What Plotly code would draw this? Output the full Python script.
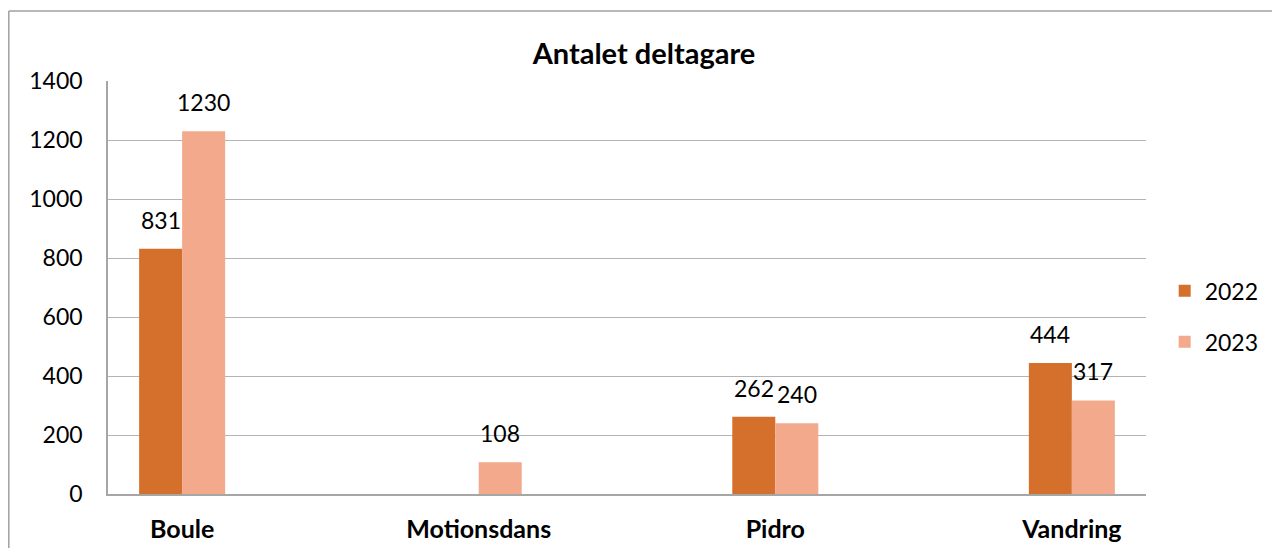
import plotly.graph_objects as go

categories = ["Boule", "Motionsdans", "Pidro", "Vandring"]
series_names = ["2022", "2023"]
values_2022 = [831, None, 262, 444]
values_2023 = [1230, 108, 240, 317]
y_ticks = [0, 200, 400, 600, 800, 1000, 1200, 1400]

colors = ["#D4702C", "#F2A98C"]
FONT = "Lato, Calibri, Carlito, sans-serif"

# page body has an 8px margin; compensate so the plot lands where the reference has it
W, H = 1272, 540
L, R, T, B = 100, 134, 73, 54
BAR_PX = 43  # each bar's approximate pixel width, used to place the value labels

fig = go.Figure()
series = [values_2022, values_2023]
for i, (name, vals, col) in enumerate(zip(series_names, series, colors)):
    fig.add_trace(go.Bar(
        x=categories, y=vals, name=name, marker_color=col, marker_line_width=0,
        legendgroup=name,
    ))
    shift = (i - 0.5) * BAR_PX
    for c, v in zip(categories, vals):
        if v is None:
            continue
        fig.add_annotation(
            x=c, y=v, xref="x", yref="y", text=str(v), showarrow=False,
            xshift=shift, yshift=13, yanchor="bottom", xanchor="center",
            font=dict(size=23, color="#000000", family=FONT),
        )

fig.update_layout(
    width=W, height=H,
    margin=dict(l=L, r=R, t=T, b=B, autoexpand=False),
    paper_bgcolor="white", plot_bgcolor="white",
    barmode="group", bargap=0.71, bargroupgap=0,
    font=dict(family=FONT, size=23, color="#000000"),
    title=dict(text="<b>Antalet deltagare</b>", x=0.5, xanchor="center",
               y=1 - (54 - 8) / H, yanchor="middle", font=dict(size=29, family=FONT)),
    legend=dict(x=1.018, xanchor="left", y=0.43, yanchor="middle",
                font=dict(size=23, family=FONT), itemsizing="constant",
                tracegroupgap=18, bgcolor="rgba(0,0,0,0)"),
    showlegend=True,
)
fig.update_xaxes(
    type="category", range=[-0.25, 3.25], showgrid=False, automargin=False,
    showline=True, linecolor="#A6A6A6", linewidth=1.5,
    tickfont=dict(size=25, family=FONT, color="#000000"),
    ticklabelstandoff=12, ticks="",
    tickprefix="<b>", ticksuffix="</b>",
)
fig.update_yaxes(
    range=[0, 1400], tickvals=y_ticks, ticktext=[str(t) for t in y_ticks],
    showgrid=True, gridcolor="#B4B4B4", gridwidth=1, automargin=False,
    showline=True, linecolor="#A6A6A6", linewidth=1.5,
    zeroline=False, ticks="", ticklabelstandoff=19,
    tickfont=dict(size=23, family=FONT, color="#000000"),
)

# outer chart border (left and top edges visible)
px_w, px_h = W - L - R, H - T - B
left = (8.8 - 8 - L) / px_w
top = (494 - 11) / px_h
fig.add_shape(type="line", xref="paper", yref="paper", x0=left, x1=left,
              y0=top, y1=-1, line=dict(color="#A0A0A0", width=1.5))
fig.add_shape(type="line", xref="paper", yref="paper", x0=left, x1=2,
              y0=top, y1=top, line=dict(color="#A0A0A0", width=1.5))

fig.write_html("out.html")
